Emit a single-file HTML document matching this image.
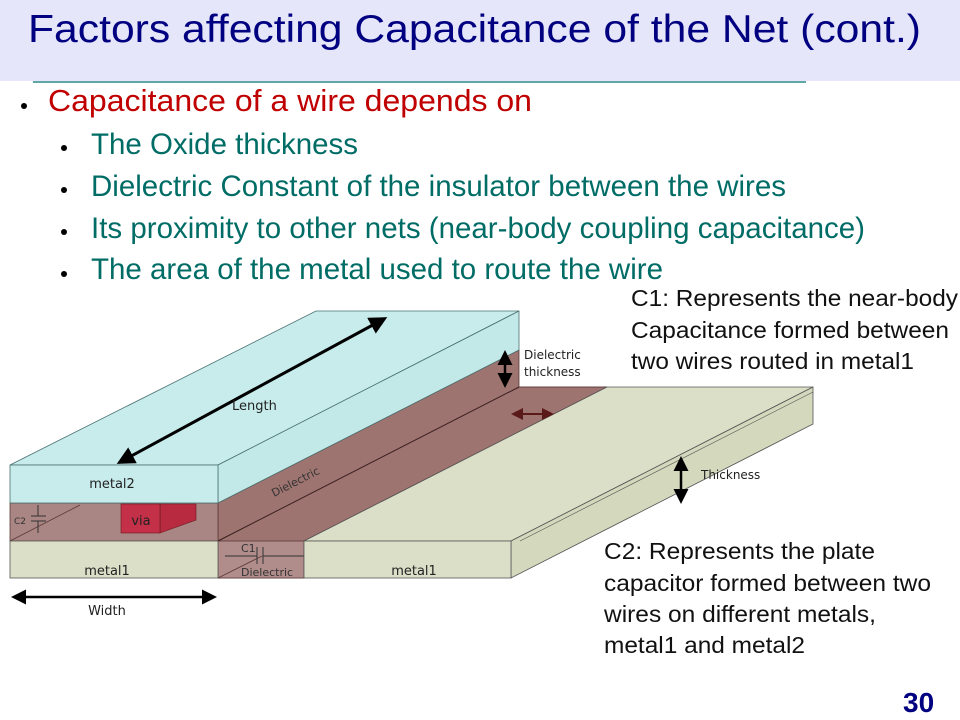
<!DOCTYPE html>
<html><head><meta charset="utf-8"><style>
body{margin:0;width:960px;height:720px;overflow:hidden;background:#fff}
svg{display:block}
</style></head><body>
<svg width="960" height="720" viewBox="0 0 960 720" xmlns="http://www.w3.org/2000/svg" font-family="Liberation Sans, sans-serif">
<defs>
<marker id="ah" markerWidth="6" markerHeight="6" refX="4" refY="3" orient="auto-start-reverse" markerUnits="strokeWidth"><path d="M0,0 L6,3 L0,6 z" fill="#000"/></marker>
<marker id="ahr" markerWidth="6" markerHeight="6" refX="4" refY="3" orient="auto-start-reverse" markerUnits="strokeWidth"><path d="M0,0 L6,3 L0,6 z" fill="#5a1a1a"/></marker>
</defs>
<rect x="0" y="0" width="960" height="81" fill="#e6e6fa"/>
<text x="28" y="42" font-size="39" fill="#000080" textLength="893" lengthAdjust="spacingAndGlyphs">Factors affecting Capacitance of the Net (cont.)</text>
<line x1="33" y1="82" x2="806" y2="82" stroke="#2a8a8a" stroke-width="1.5"/>
<circle cx="24" cy="106" r="3" fill="#000"/>
<text x="48" y="111" font-size="31" fill="#c00000" textLength="484" lengthAdjust="spacingAndGlyphs">Capacitance of a wire depends on</text>
<g font-size="30" fill="#006c66">
<circle cx="64" cy="148" r="3" fill="#000"/><text x="91" y="154" textLength="267" lengthAdjust="spacingAndGlyphs">The Oxide thickness</text>
<circle cx="64" cy="190" r="3" fill="#000"/><text x="91" y="196" textLength="695" lengthAdjust="spacingAndGlyphs">Dielectric Constant of the insulator between the wires</text>
<circle cx="64" cy="232" r="3" fill="#000"/><text x="91" y="238" textLength="774" lengthAdjust="spacingAndGlyphs">Its proximity to other nets (near-body coupling capacitance)</text>
<circle cx="64" cy="274" r="3" fill="#000"/><text x="91" y="279" textLength="572" lengthAdjust="spacingAndGlyphs">The area of the metal used to route the wire</text>
</g>
<!-- brown dielectric -->
<polygon points="218,503 519,350 519,387 607,387 304,541 304,578 218,578" fill="#9e7470" stroke="#5a3a38" stroke-width="0.8"/>
<rect x="10" y="503" width="208" height="38" fill="#a98583" stroke="#5a3a38" stroke-width="0.8"/>
<rect x="218" y="541" width="86" height="37" fill="#b08c8a" stroke="#5a3a38" stroke-width="0.8"/>
<line x1="218" y1="541" x2="519" y2="387" stroke="#3a2020" stroke-width="1"/>
<line x1="519" y1="387" x2="607" y2="387" stroke="#5a3a38" stroke-width="0.8"/>
<line x1="10" y1="541" x2="80" y2="505" stroke="#5a3a38" stroke-width="0.8"/>
<line x1="218" y1="578" x2="262" y2="556" stroke="#5a3a38" stroke-width="0.8"/>
<!-- via -->
<polygon points="160,504 196,504 196,520 160,533" fill="#b82a40" stroke="#6a1a20" stroke-width="0.6"/>
<rect x="121" y="504" width="39" height="29" fill="#c43048" stroke="#6a1a20" stroke-width="0.6"/>
<text x="141" y="525" font-size="13" text-anchor="middle" fill="#222" font-family="DejaVu Sans, sans-serif">via</text>
<!-- C2 -->
<g stroke="#333" stroke-width="1"><line x1="38" y1="505" x2="38" y2="516"/><line x1="31" y1="516" x2="46" y2="516"/><line x1="31" y1="521" x2="46" y2="521"/><line x1="38" y1="521" x2="38" y2="533"/></g>
<text x="14" y="524" font-size="9" fill="#333" font-family="DejaVu Sans, sans-serif">C2</text>
<!-- C1 -->
<g stroke="#333" stroke-width="1"><line x1="225" y1="556" x2="257" y2="556"/><line x1="257" y1="547" x2="257" y2="564"/><line x1="263" y1="547" x2="263" y2="564"/><line x1="263" y1="556" x2="304" y2="556"/></g>
<text x="241" y="552" font-size="11" fill="#333" font-family="DejaVu Sans, sans-serif">C1</text>
<text x="241" y="576" font-size="11" fill="#333" font-family="DejaVu Sans, sans-serif">Dielectric</text>
<!-- metal1 left -->
<rect x="10" y="541" width="208" height="37" fill="#dcdfc8" stroke="#555" stroke-width="0.8"/>
<text x="107" y="575" font-size="13" text-anchor="middle" fill="#222" font-family="DejaVu Sans, sans-serif">metal1</text>
<!-- metal1 right -->
<polygon points="304,541 607,387 813,387 511,541" fill="#dcdfc8" stroke="#555" stroke-width="0.8"/>
<polygon points="511,541 813,387 813,424 511,578" fill="#d4d8bc" stroke="#555" stroke-width="0.8"/>
<line x1="520" y1="541" x2="813" y2="392" stroke="#555" stroke-width="0.6"/>
<rect x="304" y="541" width="207" height="37" fill="#dcdfc8" stroke="#555" stroke-width="0.8"/>
<text x="414" y="575" font-size="13" text-anchor="middle" fill="#222" font-family="DejaVu Sans, sans-serif">metal1</text>
<!-- metal2 -->
<polygon points="10,465 316,311 519,311 218,465" fill="#c8ecec" stroke="#4a7070" stroke-width="0.8"/>
<polygon points="218,465 519,311 519,350 218,503" fill="#c2e8e8" stroke="#4a7070" stroke-width="0.8"/>
<rect x="10" y="465" width="208" height="38" fill="#c8ecec" stroke="#4a7070" stroke-width="0.8"/>
<text x="112" y="488" font-size="13" text-anchor="middle" fill="#222" font-family="DejaVu Sans, sans-serif">metal2</text>
<text x="0" y="0" font-size="11" fill="#333" font-family="DejaVu Sans, sans-serif" transform="translate(274,497) rotate(-27)">Dielectric</text>
<!-- arrows -->
<line x1="122" y1="461" x2="382" y2="320" stroke="#000" stroke-width="3" marker-start="url(#ah)" marker-end="url(#ah)"/>
<text x="232" y="410" font-size="13" fill="#222" font-family="DejaVu Sans, sans-serif">Length</text>
<line x1="16" y1="597" x2="212" y2="597" stroke="#000" stroke-width="2.5" marker-start="url(#ah)" marker-end="url(#ah)"/>
<text x="107" y="615" font-size="13" text-anchor="middle" fill="#222" font-family="DejaVu Sans, sans-serif">Width</text>
<line x1="505" y1="355" x2="505" y2="383" stroke="#000" stroke-width="2.5" marker-start="url(#ah)" marker-end="url(#ah)"/>
<text x="524" y="359" font-size="12" fill="#222" font-family="DejaVu Sans, sans-serif">Dielectric</text>
<text x="524" y="376" font-size="12" fill="#222" font-family="DejaVu Sans, sans-serif">thickness</text>
<line x1="515" y1="414" x2="550" y2="414" stroke="#5a1a1a" stroke-width="2" marker-start="url(#ahr)" marker-end="url(#ahr)"/>
<line x1="681" y1="461" x2="681" y2="499" stroke="#000" stroke-width="2.5" marker-start="url(#ah)" marker-end="url(#ah)"/>
<text x="701" y="479" font-size="12" fill="#222" font-family="DejaVu Sans, sans-serif">Thickness</text>
<!-- right text -->
<g font-size="23" fill="#111">
<text x="631" y="306" textLength="327" lengthAdjust="spacingAndGlyphs">C1: Represents the near-body</text>
<text x="631" y="338" textLength="318" lengthAdjust="spacingAndGlyphs">Capacitance formed between</text>
<text x="631" y="369" textLength="283" lengthAdjust="spacingAndGlyphs">two wires routed in metal1</text>
<text x="604" y="559" textLength="271" lengthAdjust="spacingAndGlyphs">C2: Represents the plate</text>
<text x="604" y="591" textLength="327" lengthAdjust="spacingAndGlyphs">capacitor formed between two</text>
<text x="604" y="622" textLength="272" lengthAdjust="spacingAndGlyphs">wires on different metals,</text>
<text x="604" y="653" textLength="201" lengthAdjust="spacingAndGlyphs">metal1 and metal2</text>
</g>
<text x="903" y="712" font-size="28" font-weight="bold" fill="#000080">30</text>
</svg>
</body></html>
